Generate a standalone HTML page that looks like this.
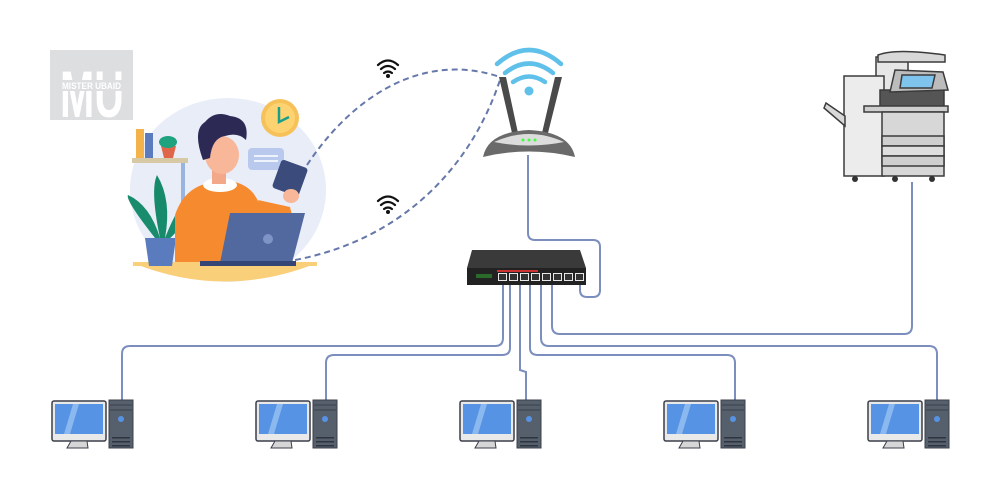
<!DOCTYPE html>
<html><head><meta charset="utf-8"><style>
html,body{margin:0;padding:0;background:#fff;}
svg{display:block;}
</style></head><body>
<svg width="1000" height="500" viewBox="0 0 1000 500" xmlns="http://www.w3.org/2000/svg">
<!-- logo -->
<rect x="50" y="50" width="83" height="70" fill="#dcdee0"/>
<text x="60" y="117" font-family="Liberation Sans, sans-serif" font-weight="bold" font-size="66" fill="#fff" textLength="64" lengthAdjust="spacingAndGlyphs">MU</text>
<rect x="61" y="80" width="61" height="11" fill="#dcdee0"/>
<text x="62" y="89" font-family="Liberation Sans, sans-serif" font-weight="bold" font-size="9" fill="#fff" textLength="59" lengthAdjust="spacingAndGlyphs">MISTER UBAID</text>

<!-- illustration -->
<ellipse cx="228" cy="190" rx="98" ry="92" fill="#e8edf8"/>
<path d="M133,263 Q225,300 317,263 Z" fill="#f9cf7a"/>
<rect x="133" y="262" width="184" height="4" fill="#f9cf7a"/>
<circle cx="280" cy="118" r="19" fill="#f7c15a"/><circle cx="280" cy="118" r="15" fill="#fcd370"/>
<path d="M279,107 L279,122 L289,117" stroke="#1aa08a" stroke-width="2.5" fill="none"/>
<rect x="248" y="148" width="36" height="22" rx="4" fill="#b9c9ee"/>
<line x1="254" y1="156" x2="278" y2="156" stroke="#fff" stroke-width="1.5"/><line x1="254" y1="161" x2="278" y2="161" stroke="#fff" stroke-width="1.5"/>
<rect x="132" y="158" width="56" height="5" fill="#d8c9a6"/>
<rect x="136" y="129" width="8" height="29" fill="#f4b24a"/><rect x="145" y="133" width="8" height="25" fill="#5a7bbd"/>
<path d="M161,146 L176,146 L173,158 L164,158Z" fill="#e0664a"/><ellipse cx="168" cy="142" rx="9" ry="6" fill="#1fa27e"/>
<rect x="181" y="163" width="4" height="60" fill="#9ab4e0"/>
<!-- plant -->
<path d="M155,238 Q125,200 128,195 Q150,205 160,238Z" fill="#1a8c6e"/>
<path d="M160,238 Q150,190 157,175 Q172,200 165,238Z" fill="#178a6b"/>
<path d="M165,238 Q180,200 190,200 Q186,225 168,240Z" fill="#1a8c6e"/>
<path d="M145,238 L176,238 L172,266 L149,266Z" fill="#5a7bbd"/>
<!-- person -->
<path d="M175,215 Q185,185 215,182 L235,182 Q258,188 262,215 L262,262 L175,262Z" fill="#f58a2e"/>
<path d="M258,200 L290,207 L292,215 L262,220Z" fill="#f58a2e"/>
<ellipse cx="220" cy="185" rx="17" ry="7" fill="#fff"/>
<rect x="212" y="168" width="14" height="16" fill="#f3a88a"/>
<ellipse cx="222" cy="155" rx="17" ry="19" fill="#f9b79a"/>
<path d="M203,160 Q192,130 205,122 Q215,110 230,116 Q250,118 246,140 Q238,132 225,136 Q212,138 210,158Z" fill="#2c2a55"/>
<rect x="276" y="163" width="28" height="30" rx="3" fill="#3a4b7c" transform="rotate(20 290 178)"/>
<ellipse cx="291" cy="196" rx="8" ry="7" fill="#f9b79a"/>
<path d="M230,213 L305,213 L292,263 L220,263Z" fill="#5269a0"/>
<circle cx="268" cy="239" r="5" fill="#7e93c6"/>
<rect x="200" y="261" width="96" height="5" fill="#344576"/>
<!-- wifi dashed links -->
<path d="M307,165 C350,100 420,50 500,77" stroke="#6678aa" stroke-width="2" stroke-dasharray="6,4" fill="none"/>
<path d="M295,260 C400,240 470,170 500,80" stroke="#6678aa" stroke-width="2" stroke-dasharray="6,4" fill="none"/>
<g fill="none" stroke="#111" stroke-width="2.2" stroke-linecap="round">
<path d="M378,65 Q388,56 398,65"/><path d="M381,69 Q388,63 395,69"/><path d="M384,73 Q388,70 392,73"/>
<path d="M378,201 Q388,192 398,201"/><path d="M381,205 Q388,199 395,205"/><path d="M384,209 Q388,206 392,209"/>
</g>
<circle cx="388" cy="76" r="2" fill="#111"/><circle cx="388" cy="212" r="2" fill="#111"/>
<!-- router -->
<g fill="none" stroke="#5fc0ea" stroke-width="4.5" stroke-linecap="round">
<path d="M497,64 Q529,36 561,64"/><path d="M505,73 Q529,54 553,73"/><path d="M513,82 Q529,71 545,82"/>
</g>
<circle cx="529" cy="91" r="4.5" fill="#5fc0ea"/>
<path d="M499,77 L506,77 L518,133 L512,133Z" fill="#4a4a4a"/>
<path d="M555,77 L562,77 L548,133 L542,133Z" fill="#4a4a4a"/>
<path d="M483,157 Q488,132 529,130 Q570,132 575,157 Q529,146 483,157Z" fill="#6a6a6a"/>
<path d="M494,142 Q529,126 564,142 Q529,149 494,142Z" fill="#dcdcdc"/>
<circle cx="523" cy="140" r="1.5" fill="#4f4"/><circle cx="529" cy="140" r="1.5" fill="#4f4"/><circle cx="535" cy="140" r="1.5" fill="#4f4"/>
<!-- cables -->
<g fill="none" stroke="#7b8ebd" stroke-width="2">
<path d="M528,155 L528,233 Q528,240 535,240 L593,240 Q600,240 600,247 L600,290 Q600,297 593,297 L587,297 Q580,297 580,290 L580,282"/>
<path d="M503,285 L503,338 Q503,346 495,346 L130,346 Q122,346 122,354 L122,400"/>
<path d="M510,285 L510,348 Q510,355 502,355 L334,355 Q326,355 326,363 L326,400"/>
<path d="M520,285 L520,370 L526,372 L526,400"/>
<path d="M530,285 L530,348 Q530,355 538,355 L727,355 Q735,355 735,363 L735,400"/>
<path d="M541,285 L541,338 Q541,346 549,346 L929,346 Q937,346 937,354 L937,400"/>
<path d="M552,285 L552,326 Q552,334 560,334 L904,334 Q912,334 912,326 L912,182"/>
</g>
<!-- switch -->
<path d="M472,250 L580,250 L586,268 L467,268Z" fill="#3a3a3a"/>
<rect x="467" y="268" width="119" height="17" fill="#222"/>
<rect x="497" y="270" width="41" height="2" fill="#c33"/>
<g fill="#e8e8e8"><rect x="498" y="273" width="9" height="8"/><rect x="509" y="273" width="9" height="8"/><rect x="520" y="273" width="9" height="8"/><rect x="531" y="273" width="9" height="8"/><rect x="542" y="273" width="9" height="8"/><rect x="553" y="273" width="9" height="8"/><rect x="564" y="273" width="9" height="8"/><rect x="575" y="273" width="9" height="8"/></g>
<g fill="#333"><rect x="499" y="274" width="7" height="6"/><rect x="510" y="274" width="7" height="6"/><rect x="521" y="274" width="7" height="6"/><rect x="532" y="274" width="7" height="6"/><rect x="543" y="274" width="7" height="6"/><rect x="554" y="274" width="7" height="6"/><rect x="565" y="274" width="7" height="6"/><rect x="576" y="274" width="7" height="6"/></g>
<rect x="476" y="274" width="16" height="4" fill="#2a6a2a"/>
<!-- printer -->
<g stroke="#3b3b3b" stroke-width="1.5">
<rect x="876" y="57" width="32" height="35" fill="#e6e6e6"/>
<path d="M878,55 Q895,48 945,55 L945,62 L878,62Z" fill="#d8d8d8"/>
<rect x="844" y="76" width="40" height="100" fill="#ececec"/>
<rect x="880" y="90" width="64" height="20" fill="#555"/>
<path d="M895,70 L943,72 L948,90 L890,92Z" fill="#bcbcbc"/>
<path d="M902,75 L935,75 L932,88 L900,88Z" fill="#7fc4ec"/>
<rect x="864" y="106" width="84" height="6" fill="#cfcfcf"/>
<rect x="882" y="112" width="62" height="64" fill="#d7d7d7"/>
<rect x="882" y="136" width="62" height="10" fill="#cfcfcf"/>
<rect x="882" y="146" width="62" height="10" fill="#dedede"/>
<rect x="882" y="156" width="62" height="10" fill="#cfcfcf"/>
<path d="M826,103 L845,116 L845,126 L824,108Z" fill="#d8d8d8"/>
</g>
<g fill="#333"><circle cx="855" cy="179" r="3"/><circle cx="895" cy="179" r="3"/><circle cx="932" cy="179" r="3"/></g>
<!-- computers -->
<g id="pc">
<rect x="52" y="401" width="54" height="40" rx="2" fill="#e9e9e9" stroke="#3b3f4a" stroke-width="1.5"/>
<rect x="55" y="404" width="48" height="30" fill="#5693e4"/>
<path d="M73,404 L79,404 L70,434 L64,434Z" fill="#8bb9ef"/>
<path d="M71,441 L87,441 L88,448 L67,448Z" fill="#d6d6d6" stroke="#3b3f4a" stroke-width="1"/>
<rect x="109" y="400" width="24" height="48" fill="#56606c" stroke="#3b3f4a" stroke-width="1"/>
<line x1="110" y1="405" x2="132" y2="405" stroke="#3b3f4a"/><line x1="110" y1="410" x2="132" y2="410" stroke="#3b3f4a"/>
<circle cx="121" cy="419" r="3" fill="#5693e4"/>
<rect x="112" y="437" width="18" height="1.5" fill="#2f3540"/><rect x="112" y="441" width="18" height="1.5" fill="#2f3540"/><rect x="112" y="445" width="18" height="1.5" fill="#2f3540"/>
</g>
<use href="#pc" x="204"/>
<use href="#pc" x="408"/>
<use href="#pc" x="612"/>
<use href="#pc" x="816"/>
</svg>
</body></html>
